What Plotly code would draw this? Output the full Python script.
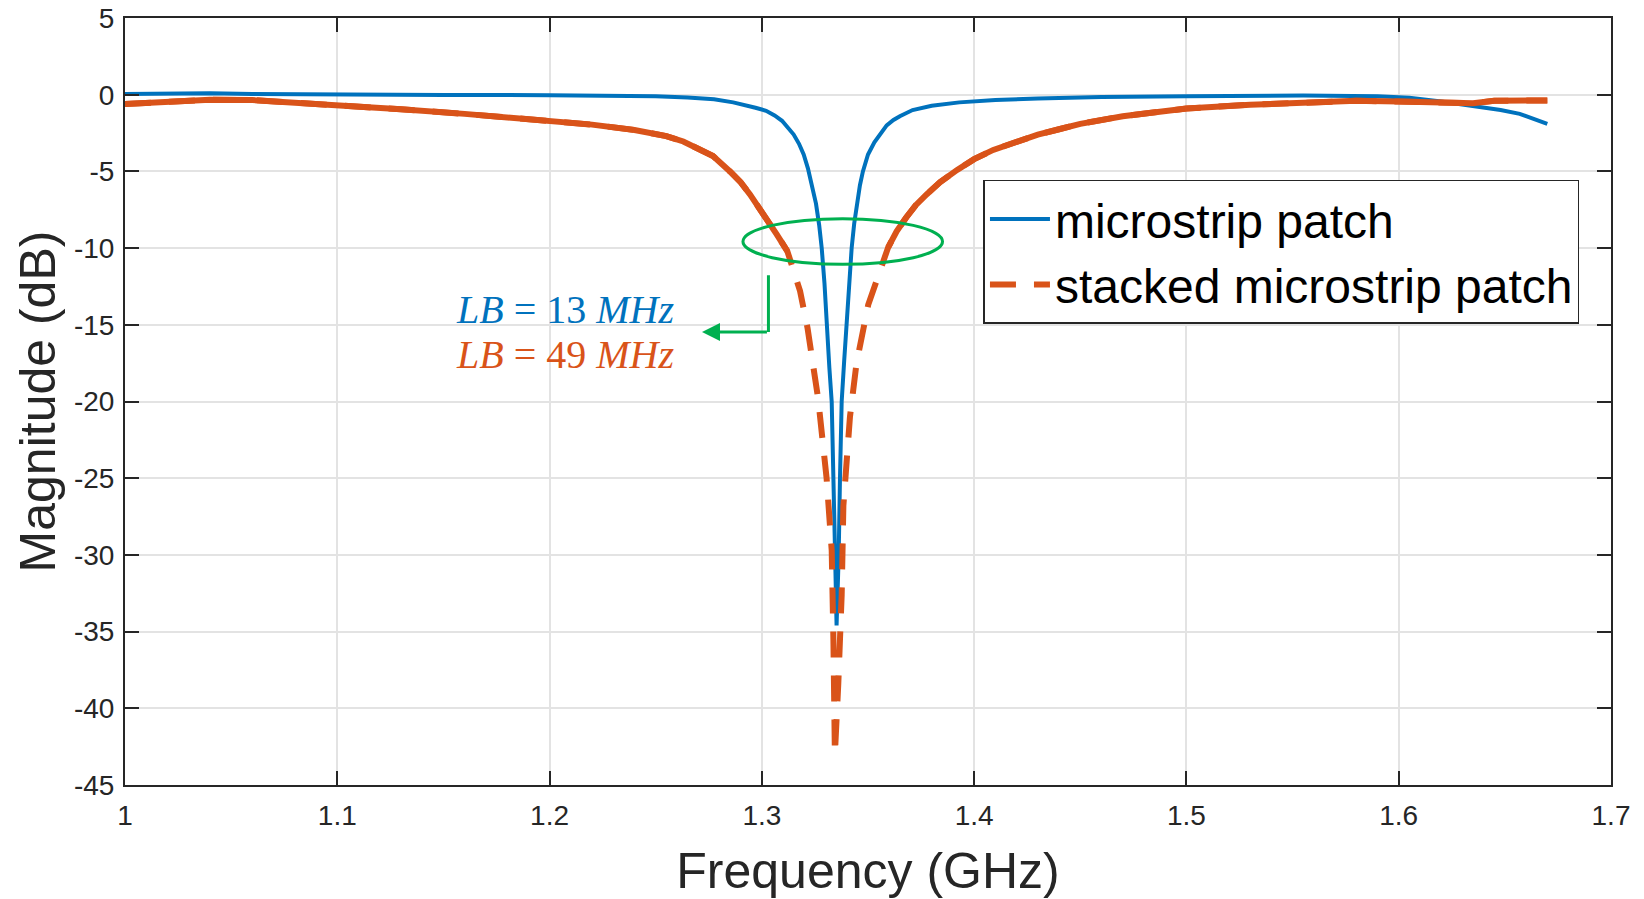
import plotly.graph_objects as go

# ---------------- data ----------------
freq_patch = [1.000, 1.020, 1.040, 1.060, 1.080, 1.100, 1.150, 1.200, 1.230, 1.250,
              1.265, 1.2775, 1.2865, 1.292, 1.297, 1.302, 1.306, 1.3095, 1.3125, 1.315,
              1.3175, 1.3197, 1.3217, 1.3235, 1.3255, 1.3270, 1.3282, 1.3295, 1.3305, 1.3318,
              1.3329, 1.3335, 1.3345, 1.3352, 1.3362, 1.3368, 1.3376, 1.3388, 1.3399, 1.3410,
              1.3423, 1.3435, 1.3448, 1.3462, 1.3476, 1.3500, 1.3530, 1.3560, 1.3588, 1.3620,
              1.3650, 1.3710, 1.3800, 1.3930, 1.410, 1.430, 1.460, 1.500, 1.530, 1.555,
              1.590, 1.605, 1.620, 1.635, 1.648, 1.657, 1.663, 1.670]
mag_patch = [0.05, 0.08, 0.10, 0.05, 0.02, 0.00, -0.02, -0.03, -0.05, -0.10,
             -0.18, -0.30, -0.50, -0.65, -0.85, -1.05, -1.35, -1.70, -2.15, -2.60,
             -3.20, -3.90, -4.80, -5.80, -7.10, -8.50, -10.0, -12.3, -15.0, -17.8,
             -20.0, -25.0, -30.0, -34.6, -30.0, -25.0, -20.0, -17.3, -15.0, -12.4,
             -10.0, -8.40, -7.10, -5.90, -5.00, -3.90, -3.10, -2.50, -2.00, -1.65,
             -1.40, -1.00, -0.72, -0.50, -0.35, -0.25, -0.15, -0.10, -0.08, -0.05,
             -0.10, -0.20, -0.45, -0.75, -1.00, -1.25, -1.55, -1.90]

freq_stacked = [1.000, 1.020, 1.040, 1.060, 1.080, 1.100, 1.130, 1.160, 1.190, 1.220,
                1.240, 1.255, 1.263, 1.270, 1.277, 1.285, 1.290, 1.2944, 1.299, 1.303,
                1.3070, 1.3120, 1.318, 1.3215, 1.3265, 1.3305, 1.3329, 1.3337, 1.3344, 1.3360,
                1.3376, 1.3384, 1.3399, 1.3415, 1.3446, 1.3501, 1.3595, 1.3635, 1.3680, 1.3725,
                1.3776, 1.3840, 1.3920, 1.400, 1.409, 1.420, 1.430, 1.440, 1.450, 1.470,
                1.500, 1.530, 1.560, 1.580, 1.600, 1.620, 1.635, 1.645, 1.670]
mag_stacked = [-0.60, -0.45, -0.33, -0.35, -0.50, -0.70, -0.95, -1.25, -1.60, -1.95,
               -2.30, -2.70, -3.05, -3.50, -4.00, -5.00, -5.70, -6.50, -7.40, -8.30,
               -9.10, -10.2, -12.8, -15.2, -19.8, -25.0, -29.7, -35.5, -43.0, -38.4,
               -32.6, -26.8, -23.9, -21.0, -17.5, -13.7, -9.95, -8.90, -8.00, -7.20,
               -6.50, -5.70, -4.90, -4.20, -3.60, -3.05, -2.60, -2.25, -1.90, -1.40,
               -0.90, -0.65, -0.50, -0.40, -0.45, -0.50, -0.55, -0.40, -0.37]

series_names = ["microstrip patch", "stacked microstrip patch"]
bw_labels = ["<i>LB</i> = 13 <i>MHz</i>", "<i>LB</i> = 49 <i>MHz</i>"]
x_ticks = [1.0, 1.1, 1.2, 1.3, 1.4, 1.5, 1.6, 1.7]
x_ticklabels = ["1", "1.1", "1.2", "1.3", "1.4", "1.5", "1.6", "1.7"]
y_ticks = [5, 0, -5, -10, -15, -20, -25, -30, -35, -40, -45]
y_ticklabels = ["5", "0", "-5", "-10", "-15", "-20", "-25", "-30", "-35", "-40", "-45"]

# annotation geometry (data coordinates)
ellipse_x = [1.2911, 1.3851]
ellipse_y = [-11.06, -8.08]
arrow_x = [1.3031, 1.2718]
arrow_y = [-11.77, -15.47]
label_x = 1.2073
label_y = [-13.99, -16.94]

BLUE = "#0072BD"
ORANGE = "#D95319"
GREEN = "#00B050"
AXC = "#262626"
FONT = "Liberation Sans, Arial, sans-serif"

fig = go.Figure()

fig.add_trace(go.Scatter(x=freq_patch, y=mag_patch, mode="lines", name=series_names[0],
                         line=dict(color=BLUE, width=4)))
fig.add_trace(go.Scatter(x=freq_stacked, y=mag_stacked, mode="lines", name=series_names[1],
                         line=dict(color=ORANGE, width=6, dash="26px,18px")))
# dense-sampled MATLAB look: shallow parts render as a continuous line
solid_part = [v if v > -11 else None for v in mag_stacked]
fig.add_trace(go.Scatter(x=freq_stacked, y=solid_part, mode="lines", showlegend=False,
                         connectgaps=False, hoverinfo="skip",
                         line=dict(color=ORANGE, width=6)))

fig.add_shape(type="circle", xref="x", yref="y",
              x0=ellipse_x[0], x1=ellipse_x[1], y0=ellipse_y[0], y1=ellipse_y[1],
              line=dict(color=GREEN, width=3))
fig.add_shape(type="line", xref="x", yref="y",
              x0=arrow_x[0], x1=arrow_x[0], y0=arrow_y[0], y1=arrow_y[1],
              line=dict(color=GREEN, width=3))
fig.add_annotation(x=arrow_x[1], y=arrow_y[1], ax=arrow_x[0], ay=arrow_y[1],
                   xref="x", yref="y", axref="x", ayref="y", text="",
                   showarrow=True, arrowhead=2, arrowsize=1.2, arrowwidth=3,
                   arrowcolor=GREEN)

for txt, yy, col in zip(bw_labels, label_y, [BLUE, ORANGE]):
    fig.add_annotation(x=label_x, y=yy, xref="x", yref="y", text=txt, showarrow=False,
                       font=dict(family="Liberation Serif, DejaVu Serif, serif",
                                 size=40, color=col))

fig.update_layout(
    width=1644, height=899,
    margin=dict(l=125, r=33, t=18, b=114),
    paper_bgcolor="white", plot_bgcolor="white",
    font=dict(family=FONT, color=AXC),
    showlegend=True,
    legend=dict(x=0.5777, y=0.789, xanchor="left", yanchor="top",
                bgcolor="white", bordercolor=AXC, borderwidth=1.5,
                font=dict(family=FONT, size=48, color="black"),
                itemwidth=60, tracegroupgap=0),
)

fig.update_xaxes(range=[1.0, 1.7], tickvals=x_ticks, ticktext=x_ticklabels,
                 automargin=False,
                 showline=True, linecolor=AXC, linewidth=2, mirror="ticks",
                 ticks="inside", ticklen=14, tickwidth=2, tickcolor=AXC,
                 ticklabelstandoff=4,
                 showgrid=True, gridcolor="#e3e3e3", gridwidth=1.5, zeroline=False,
                 tickfont=dict(family=FONT, size=28, color=AXC),
                 title=dict(text="Frequency (GHz)", font=dict(family=FONT, size=50, color=AXC),
                            standoff=26))
fig.update_yaxes(range=[-45, 5], tickvals=y_ticks, ticktext=y_ticklabels,
                 automargin=False,
                 showline=True, linecolor=AXC, linewidth=2, mirror="ticks",
                 ticks="inside", ticklen=14, tickwidth=2, tickcolor=AXC,
                 ticklabelstandoff=3,
                 showgrid=True, gridcolor="#e3e3e3", gridwidth=1.5, zeroline=False,
                 tickfont=dict(family=FONT, size=28, color=AXC),
                 title=dict(text="Magnitude (dB)", font=dict(family=FONT, size=50, color=AXC),
                            standoff=2))

fig.write_html("out.html")
